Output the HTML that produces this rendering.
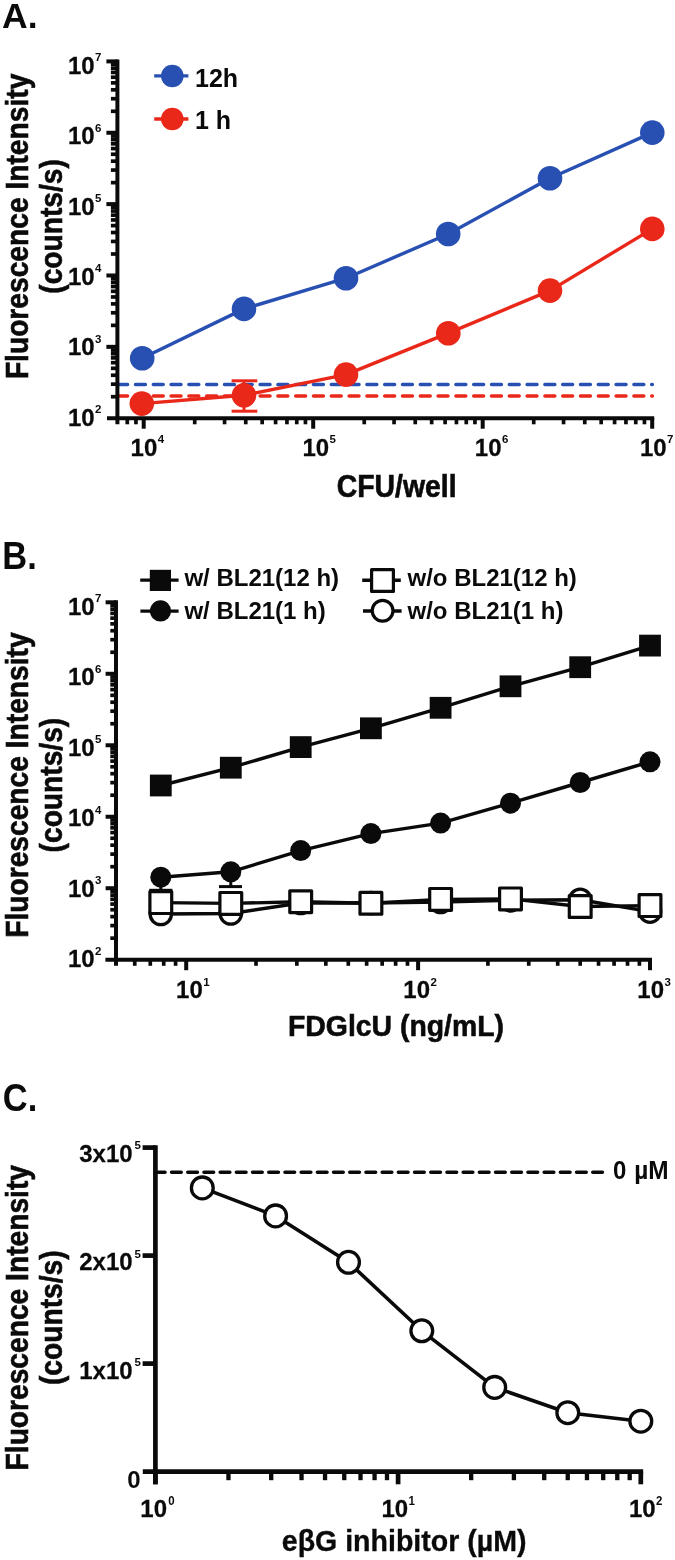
<!DOCTYPE html>
<html><head><meta charset="utf-8"><title>Figure</title>
<style>
html,body{margin:0;padding:0;background:#fff;}
svg{display:block;}
svg text{font-family:"Liberation Sans", Arial, Helvetica, sans-serif;font-weight:bold;fill:#0a0a0a;}
</style></head><body>
<svg width="675" height="1560" viewBox="0 0 675 1560">
<rect x="0" y="0" width="675" height="1560" fill="#ffffff"/>
<text transform="translate(2.00,27.60) scale(1,1.0)" font-size="35.5" text-anchor="start" >A.</text>
<line x1="117.70" y1="384.40" x2="652.40" y2="384.40" stroke="#2850B2" stroke-width="3.5" stroke-dasharray="9.9 7.9" stroke-linecap="round"/>
<line x1="117.70" y1="396.00" x2="652.40" y2="396.00" stroke="#EA281A" stroke-width="3.5" stroke-dasharray="9.9 7.9" stroke-linecap="round"/>
<line x1="117.40" y1="59.40" x2="117.40" y2="424.30" stroke="#0a0a0a" stroke-width="4.0" />
<line x1="107.00" y1="418.20" x2="654.20" y2="418.20" stroke="#0a0a0a" stroke-width="4.0" />
<line x1="110.90" y1="396.72" x2="117.40" y2="396.72" stroke="#0a0a0a" stroke-width="3.68" />
<line x1="110.90" y1="384.15" x2="117.40" y2="384.15" stroke="#0a0a0a" stroke-width="3.68" />
<line x1="110.90" y1="375.24" x2="117.40" y2="375.24" stroke="#0a0a0a" stroke-width="3.68" />
<line x1="110.90" y1="368.32" x2="117.40" y2="368.32" stroke="#0a0a0a" stroke-width="3.68" />
<line x1="110.90" y1="362.67" x2="117.40" y2="362.67" stroke="#0a0a0a" stroke-width="3.68" />
<line x1="110.90" y1="357.89" x2="117.40" y2="357.89" stroke="#0a0a0a" stroke-width="3.68" />
<line x1="110.90" y1="353.76" x2="117.40" y2="353.76" stroke="#0a0a0a" stroke-width="3.68" />
<line x1="110.90" y1="350.11" x2="117.40" y2="350.11" stroke="#0a0a0a" stroke-width="3.68" />
<text transform="translate(94.60,425.80) scale(1,1.02)" font-size="24" text-anchor="end" stroke="#0a0a0a" stroke-width="0.25">10</text>
<text transform="translate(95.10,413.20) scale(1,1.02)" font-size="11.5" text-anchor="start" >2</text>
<line x1="106.40" y1="346.84" x2="117.40" y2="346.84" stroke="#0a0a0a" stroke-width="4.0" />
<line x1="110.90" y1="325.36" x2="117.40" y2="325.36" stroke="#0a0a0a" stroke-width="3.68" />
<line x1="110.90" y1="312.79" x2="117.40" y2="312.79" stroke="#0a0a0a" stroke-width="3.68" />
<line x1="110.90" y1="303.88" x2="117.40" y2="303.88" stroke="#0a0a0a" stroke-width="3.68" />
<line x1="110.90" y1="296.96" x2="117.40" y2="296.96" stroke="#0a0a0a" stroke-width="3.68" />
<line x1="110.90" y1="291.31" x2="117.40" y2="291.31" stroke="#0a0a0a" stroke-width="3.68" />
<line x1="110.90" y1="286.53" x2="117.40" y2="286.53" stroke="#0a0a0a" stroke-width="3.68" />
<line x1="110.90" y1="282.40" x2="117.40" y2="282.40" stroke="#0a0a0a" stroke-width="3.68" />
<line x1="110.90" y1="278.75" x2="117.40" y2="278.75" stroke="#0a0a0a" stroke-width="3.68" />
<text transform="translate(94.60,355.38) scale(1,1.02)" font-size="24" text-anchor="end" stroke="#0a0a0a" stroke-width="0.25">10</text>
<text transform="translate(95.10,342.78) scale(1,1.02)" font-size="11.5" text-anchor="start" >3</text>
<line x1="106.40" y1="275.48" x2="117.40" y2="275.48" stroke="#0a0a0a" stroke-width="4.0" />
<line x1="110.90" y1="254.00" x2="117.40" y2="254.00" stroke="#0a0a0a" stroke-width="3.68" />
<line x1="110.90" y1="241.43" x2="117.40" y2="241.43" stroke="#0a0a0a" stroke-width="3.68" />
<line x1="110.90" y1="232.52" x2="117.40" y2="232.52" stroke="#0a0a0a" stroke-width="3.68" />
<line x1="110.90" y1="225.60" x2="117.40" y2="225.60" stroke="#0a0a0a" stroke-width="3.68" />
<line x1="110.90" y1="219.95" x2="117.40" y2="219.95" stroke="#0a0a0a" stroke-width="3.68" />
<line x1="110.90" y1="215.17" x2="117.40" y2="215.17" stroke="#0a0a0a" stroke-width="3.68" />
<line x1="110.90" y1="211.04" x2="117.40" y2="211.04" stroke="#0a0a0a" stroke-width="3.68" />
<line x1="110.90" y1="207.39" x2="117.40" y2="207.39" stroke="#0a0a0a" stroke-width="3.68" />
<text transform="translate(94.60,284.96) scale(1,1.02)" font-size="24" text-anchor="end" stroke="#0a0a0a" stroke-width="0.25">10</text>
<text transform="translate(95.10,272.36) scale(1,1.02)" font-size="11.5" text-anchor="start" >4</text>
<line x1="106.40" y1="204.12" x2="117.40" y2="204.12" stroke="#0a0a0a" stroke-width="4.0" />
<line x1="110.90" y1="182.64" x2="117.40" y2="182.64" stroke="#0a0a0a" stroke-width="3.68" />
<line x1="110.90" y1="170.07" x2="117.40" y2="170.07" stroke="#0a0a0a" stroke-width="3.68" />
<line x1="110.90" y1="161.16" x2="117.40" y2="161.16" stroke="#0a0a0a" stroke-width="3.68" />
<line x1="110.90" y1="154.24" x2="117.40" y2="154.24" stroke="#0a0a0a" stroke-width="3.68" />
<line x1="110.90" y1="148.59" x2="117.40" y2="148.59" stroke="#0a0a0a" stroke-width="3.68" />
<line x1="110.90" y1="143.81" x2="117.40" y2="143.81" stroke="#0a0a0a" stroke-width="3.68" />
<line x1="110.90" y1="139.68" x2="117.40" y2="139.68" stroke="#0a0a0a" stroke-width="3.68" />
<line x1="110.90" y1="136.03" x2="117.40" y2="136.03" stroke="#0a0a0a" stroke-width="3.68" />
<text transform="translate(94.60,214.54) scale(1,1.02)" font-size="24" text-anchor="end" stroke="#0a0a0a" stroke-width="0.25">10</text>
<text transform="translate(95.10,201.94) scale(1,1.02)" font-size="11.5" text-anchor="start" >5</text>
<line x1="106.40" y1="132.76" x2="117.40" y2="132.76" stroke="#0a0a0a" stroke-width="4.0" />
<line x1="110.90" y1="111.28" x2="117.40" y2="111.28" stroke="#0a0a0a" stroke-width="3.68" />
<line x1="110.90" y1="98.71" x2="117.40" y2="98.71" stroke="#0a0a0a" stroke-width="3.68" />
<line x1="110.90" y1="89.80" x2="117.40" y2="89.80" stroke="#0a0a0a" stroke-width="3.68" />
<line x1="110.90" y1="82.88" x2="117.40" y2="82.88" stroke="#0a0a0a" stroke-width="3.68" />
<line x1="110.90" y1="77.23" x2="117.40" y2="77.23" stroke="#0a0a0a" stroke-width="3.68" />
<line x1="110.90" y1="72.45" x2="117.40" y2="72.45" stroke="#0a0a0a" stroke-width="3.68" />
<line x1="110.90" y1="68.32" x2="117.40" y2="68.32" stroke="#0a0a0a" stroke-width="3.68" />
<line x1="110.90" y1="64.67" x2="117.40" y2="64.67" stroke="#0a0a0a" stroke-width="3.68" />
<text transform="translate(94.60,144.12) scale(1,1.02)" font-size="24" text-anchor="end" stroke="#0a0a0a" stroke-width="0.25">10</text>
<text transform="translate(95.10,131.52) scale(1,1.02)" font-size="11.5" text-anchor="start" >6</text>
<line x1="106.40" y1="61.40" x2="117.40" y2="61.40" stroke="#0a0a0a" stroke-width="4.0" />
<text transform="translate(94.60,73.70) scale(1,1.02)" font-size="24" text-anchor="end" stroke="#0a0a0a" stroke-width="0.25">10</text>
<text transform="translate(95.10,61.10) scale(1,1.02)" font-size="11.5" text-anchor="start" >7</text>
<line x1="143.70" y1="418.20" x2="143.70" y2="428.70" stroke="#0a0a0a" stroke-width="4.0" />
<text transform="translate(157.30,456.00) scale(1,1.02)" font-size="24" text-anchor="end" stroke="#0a0a0a" stroke-width="0.25">10</text>
<text transform="translate(157.80,443.40) scale(1,1.02)" font-size="11.5" text-anchor="start" >4</text>
<line x1="313.20" y1="418.20" x2="313.20" y2="428.70" stroke="#0a0a0a" stroke-width="4.0" />
<text transform="translate(329.10,456.00) scale(1,1.02)" font-size="24" text-anchor="end" stroke="#0a0a0a" stroke-width="0.25">10</text>
<text transform="translate(329.60,443.40) scale(1,1.02)" font-size="11.5" text-anchor="start" >5</text>
<line x1="482.70" y1="418.20" x2="482.70" y2="428.70" stroke="#0a0a0a" stroke-width="4.0" />
<text transform="translate(501.50,456.00) scale(1,1.02)" font-size="24" text-anchor="end" stroke="#0a0a0a" stroke-width="0.25">10</text>
<text transform="translate(502.00,443.40) scale(1,1.02)" font-size="11.5" text-anchor="start" >6</text>
<line x1="652.20" y1="418.20" x2="652.20" y2="428.70" stroke="#0a0a0a" stroke-width="4.0" />
<text transform="translate(666.60,456.00) scale(1,1.02)" font-size="24" text-anchor="end" stroke="#0a0a0a" stroke-width="0.25">10</text>
<text transform="translate(667.10,443.40) scale(1,1.02)" font-size="11.5" text-anchor="start" >7</text>
<line x1="127.27" y1="418.20" x2="127.27" y2="424.30" stroke="#0a0a0a" stroke-width="3.68" />
<line x1="135.94" y1="418.20" x2="135.94" y2="424.30" stroke="#0a0a0a" stroke-width="3.68" />
<line x1="194.72" y1="418.20" x2="194.72" y2="424.30" stroke="#0a0a0a" stroke-width="3.68" />
<line x1="224.57" y1="418.20" x2="224.57" y2="424.30" stroke="#0a0a0a" stroke-width="3.68" />
<line x1="245.75" y1="418.20" x2="245.75" y2="424.30" stroke="#0a0a0a" stroke-width="3.68" />
<line x1="262.18" y1="418.20" x2="262.18" y2="424.30" stroke="#0a0a0a" stroke-width="3.68" />
<line x1="275.60" y1="418.20" x2="275.60" y2="424.30" stroke="#0a0a0a" stroke-width="3.68" />
<line x1="286.94" y1="418.20" x2="286.94" y2="424.30" stroke="#0a0a0a" stroke-width="3.68" />
<line x1="296.77" y1="418.20" x2="296.77" y2="424.30" stroke="#0a0a0a" stroke-width="3.68" />
<line x1="305.44" y1="418.20" x2="305.44" y2="424.30" stroke="#0a0a0a" stroke-width="3.68" />
<line x1="364.22" y1="418.20" x2="364.22" y2="424.30" stroke="#0a0a0a" stroke-width="3.68" />
<line x1="394.07" y1="418.20" x2="394.07" y2="424.30" stroke="#0a0a0a" stroke-width="3.68" />
<line x1="415.25" y1="418.20" x2="415.25" y2="424.30" stroke="#0a0a0a" stroke-width="3.68" />
<line x1="431.68" y1="418.20" x2="431.68" y2="424.30" stroke="#0a0a0a" stroke-width="3.68" />
<line x1="445.10" y1="418.20" x2="445.10" y2="424.30" stroke="#0a0a0a" stroke-width="3.68" />
<line x1="456.44" y1="418.20" x2="456.44" y2="424.30" stroke="#0a0a0a" stroke-width="3.68" />
<line x1="466.27" y1="418.20" x2="466.27" y2="424.30" stroke="#0a0a0a" stroke-width="3.68" />
<line x1="474.94" y1="418.20" x2="474.94" y2="424.30" stroke="#0a0a0a" stroke-width="3.68" />
<line x1="533.72" y1="418.20" x2="533.72" y2="424.30" stroke="#0a0a0a" stroke-width="3.68" />
<line x1="563.57" y1="418.20" x2="563.57" y2="424.30" stroke="#0a0a0a" stroke-width="3.68" />
<line x1="584.75" y1="418.20" x2="584.75" y2="424.30" stroke="#0a0a0a" stroke-width="3.68" />
<line x1="601.18" y1="418.20" x2="601.18" y2="424.30" stroke="#0a0a0a" stroke-width="3.68" />
<line x1="614.60" y1="418.20" x2="614.60" y2="424.30" stroke="#0a0a0a" stroke-width="3.68" />
<line x1="625.94" y1="418.20" x2="625.94" y2="424.30" stroke="#0a0a0a" stroke-width="3.68" />
<line x1="635.77" y1="418.20" x2="635.77" y2="424.30" stroke="#0a0a0a" stroke-width="3.68" />
<line x1="644.44" y1="418.20" x2="644.44" y2="424.30" stroke="#0a0a0a" stroke-width="3.68" />
<text transform="translate(28.10,226.40) rotate(-90) scale(1,1.085)" font-size="28.2" text-anchor="middle" stroke="#0a0a0a" stroke-width="0.55">Fluorescence Intensity</text>
<text transform="translate(61.50,226.40) rotate(-90) scale(1,1.085)" font-size="28.2" text-anchor="middle" stroke="#0a0a0a" stroke-width="0.55">(counts/s)</text>
<text transform="translate(396.70,496.60) scale(1,1.075)" font-size="28.4" text-anchor="middle" stroke="#0a0a0a" stroke-width="0.55">CFU/well</text>
<polyline points="142.20,358.30 244.00,308.90 346.00,278.20 448.20,234.00 550.00,178.20 652.30,132.60" fill="none" stroke="#2850B2" stroke-width="3.4" stroke-linejoin="round"/>
<circle cx="142.20" cy="358.30" r="12.3" fill="#2850B2"/>
<circle cx="244.00" cy="308.90" r="12.3" fill="#2850B2"/>
<circle cx="346.00" cy="278.20" r="12.3" fill="#2850B2"/>
<circle cx="448.20" cy="234.00" r="12.3" fill="#2850B2"/>
<circle cx="550.00" cy="178.20" r="12.3" fill="#2850B2"/>
<circle cx="652.30" cy="132.60" r="12.3" fill="#2850B2"/>
<line x1="244.00" y1="380.80" x2="244.00" y2="411.20" stroke="#EA281A" stroke-width="3.0" />
<line x1="231.60" y1="380.80" x2="257.30" y2="380.80" stroke="#EA281A" stroke-width="3.0" />
<line x1="231.60" y1="411.20" x2="257.30" y2="411.20" stroke="#EA281A" stroke-width="3.0" />
<polyline points="141.80,403.60 244.00,395.30 346.00,374.60 448.30,333.20 550.00,290.60 652.30,228.90" fill="none" stroke="#EA281A" stroke-width="3.4" stroke-linejoin="round"/>
<circle cx="141.80" cy="403.60" r="12.3" fill="#EA281A"/>
<circle cx="244.00" cy="395.30" r="12.3" fill="#EA281A"/>
<circle cx="346.00" cy="374.60" r="12.3" fill="#EA281A"/>
<circle cx="448.30" cy="333.20" r="12.3" fill="#EA281A"/>
<circle cx="550.00" cy="290.60" r="12.3" fill="#EA281A"/>
<circle cx="652.30" cy="228.90" r="12.3" fill="#EA281A"/>
<line x1="154.20" y1="75.90" x2="188.40" y2="75.90" stroke="#2850B2" stroke-width="3.4" />
<circle cx="172.30" cy="76.00" r="11.3" fill="#2850B2"/>
<line x1="154.20" y1="119.00" x2="188.40" y2="119.00" stroke="#EA281A" stroke-width="3.4" />
<circle cx="172.30" cy="119.00" r="11.3" fill="#EA281A"/>
<text transform="translate(195.00,86.80) scale(1,1.0)" font-size="25" text-anchor="start" >12h</text>
<text transform="translate(195.00,128.60) scale(1,1.0)" font-size="25" text-anchor="start" >1 h</text>
<text transform="translate(2.30,569.20) scale(1,1.1)" font-size="34.5" text-anchor="start" >B.</text>
<line x1="116.00" y1="600.30" x2="116.00" y2="965.80" stroke="#0a0a0a" stroke-width="4.0" />
<line x1="105.40" y1="959.70" x2="652.00" y2="959.70" stroke="#0a0a0a" stroke-width="4.0" />
<line x1="110.30" y1="938.18" x2="116.00" y2="938.18" stroke="#0a0a0a" stroke-width="3.68" />
<line x1="110.30" y1="925.60" x2="116.00" y2="925.60" stroke="#0a0a0a" stroke-width="3.68" />
<line x1="110.30" y1="916.66" x2="116.00" y2="916.66" stroke="#0a0a0a" stroke-width="3.68" />
<line x1="110.30" y1="909.74" x2="116.00" y2="909.74" stroke="#0a0a0a" stroke-width="3.68" />
<line x1="110.30" y1="904.08" x2="116.00" y2="904.08" stroke="#0a0a0a" stroke-width="3.68" />
<line x1="110.30" y1="899.29" x2="116.00" y2="899.29" stroke="#0a0a0a" stroke-width="3.68" />
<line x1="110.30" y1="895.15" x2="116.00" y2="895.15" stroke="#0a0a0a" stroke-width="3.68" />
<line x1="110.30" y1="891.49" x2="116.00" y2="891.49" stroke="#0a0a0a" stroke-width="3.68" />
<text transform="translate(94.60,967.20) scale(1,1.02)" font-size="24" text-anchor="end" stroke="#0a0a0a" stroke-width="0.25">10</text>
<text transform="translate(95.10,954.60) scale(1,1.02)" font-size="11.5" text-anchor="start" >2</text>
<line x1="105.60" y1="888.22" x2="116.00" y2="888.22" stroke="#0a0a0a" stroke-width="4.0" />
<line x1="110.30" y1="866.70" x2="116.00" y2="866.70" stroke="#0a0a0a" stroke-width="3.68" />
<line x1="110.30" y1="854.12" x2="116.00" y2="854.12" stroke="#0a0a0a" stroke-width="3.68" />
<line x1="110.30" y1="845.18" x2="116.00" y2="845.18" stroke="#0a0a0a" stroke-width="3.68" />
<line x1="110.30" y1="838.26" x2="116.00" y2="838.26" stroke="#0a0a0a" stroke-width="3.68" />
<line x1="110.30" y1="832.60" x2="116.00" y2="832.60" stroke="#0a0a0a" stroke-width="3.68" />
<line x1="110.30" y1="827.81" x2="116.00" y2="827.81" stroke="#0a0a0a" stroke-width="3.68" />
<line x1="110.30" y1="823.67" x2="116.00" y2="823.67" stroke="#0a0a0a" stroke-width="3.68" />
<line x1="110.30" y1="820.01" x2="116.00" y2="820.01" stroke="#0a0a0a" stroke-width="3.68" />
<text transform="translate(94.60,896.68) scale(1,1.02)" font-size="24" text-anchor="end" stroke="#0a0a0a" stroke-width="0.25">10</text>
<text transform="translate(95.10,884.08) scale(1,1.02)" font-size="11.5" text-anchor="start" >3</text>
<line x1="105.60" y1="816.74" x2="116.00" y2="816.74" stroke="#0a0a0a" stroke-width="4.0" />
<line x1="110.30" y1="795.22" x2="116.00" y2="795.22" stroke="#0a0a0a" stroke-width="3.68" />
<line x1="110.30" y1="782.64" x2="116.00" y2="782.64" stroke="#0a0a0a" stroke-width="3.68" />
<line x1="110.30" y1="773.70" x2="116.00" y2="773.70" stroke="#0a0a0a" stroke-width="3.68" />
<line x1="110.30" y1="766.78" x2="116.00" y2="766.78" stroke="#0a0a0a" stroke-width="3.68" />
<line x1="110.30" y1="761.12" x2="116.00" y2="761.12" stroke="#0a0a0a" stroke-width="3.68" />
<line x1="110.30" y1="756.33" x2="116.00" y2="756.33" stroke="#0a0a0a" stroke-width="3.68" />
<line x1="110.30" y1="752.19" x2="116.00" y2="752.19" stroke="#0a0a0a" stroke-width="3.68" />
<line x1="110.30" y1="748.53" x2="116.00" y2="748.53" stroke="#0a0a0a" stroke-width="3.68" />
<text transform="translate(94.60,826.16) scale(1,1.02)" font-size="24" text-anchor="end" stroke="#0a0a0a" stroke-width="0.25">10</text>
<text transform="translate(95.10,813.56) scale(1,1.02)" font-size="11.5" text-anchor="start" >4</text>
<line x1="105.60" y1="745.26" x2="116.00" y2="745.26" stroke="#0a0a0a" stroke-width="4.0" />
<line x1="110.30" y1="723.74" x2="116.00" y2="723.74" stroke="#0a0a0a" stroke-width="3.68" />
<line x1="110.30" y1="711.16" x2="116.00" y2="711.16" stroke="#0a0a0a" stroke-width="3.68" />
<line x1="110.30" y1="702.22" x2="116.00" y2="702.22" stroke="#0a0a0a" stroke-width="3.68" />
<line x1="110.30" y1="695.30" x2="116.00" y2="695.30" stroke="#0a0a0a" stroke-width="3.68" />
<line x1="110.30" y1="689.64" x2="116.00" y2="689.64" stroke="#0a0a0a" stroke-width="3.68" />
<line x1="110.30" y1="684.85" x2="116.00" y2="684.85" stroke="#0a0a0a" stroke-width="3.68" />
<line x1="110.30" y1="680.71" x2="116.00" y2="680.71" stroke="#0a0a0a" stroke-width="3.68" />
<line x1="110.30" y1="677.05" x2="116.00" y2="677.05" stroke="#0a0a0a" stroke-width="3.68" />
<text transform="translate(94.60,755.64) scale(1,1.02)" font-size="24" text-anchor="end" stroke="#0a0a0a" stroke-width="0.25">10</text>
<text transform="translate(95.10,743.04) scale(1,1.02)" font-size="11.5" text-anchor="start" >5</text>
<line x1="105.60" y1="673.78" x2="116.00" y2="673.78" stroke="#0a0a0a" stroke-width="4.0" />
<line x1="110.30" y1="652.26" x2="116.00" y2="652.26" stroke="#0a0a0a" stroke-width="3.68" />
<line x1="110.30" y1="639.68" x2="116.00" y2="639.68" stroke="#0a0a0a" stroke-width="3.68" />
<line x1="110.30" y1="630.74" x2="116.00" y2="630.74" stroke="#0a0a0a" stroke-width="3.68" />
<line x1="110.30" y1="623.82" x2="116.00" y2="623.82" stroke="#0a0a0a" stroke-width="3.68" />
<line x1="110.30" y1="618.16" x2="116.00" y2="618.16" stroke="#0a0a0a" stroke-width="3.68" />
<line x1="110.30" y1="613.37" x2="116.00" y2="613.37" stroke="#0a0a0a" stroke-width="3.68" />
<line x1="110.30" y1="609.23" x2="116.00" y2="609.23" stroke="#0a0a0a" stroke-width="3.68" />
<line x1="110.30" y1="605.57" x2="116.00" y2="605.57" stroke="#0a0a0a" stroke-width="3.68" />
<text transform="translate(94.60,685.12) scale(1,1.02)" font-size="24" text-anchor="end" stroke="#0a0a0a" stroke-width="0.25">10</text>
<text transform="translate(95.10,672.52) scale(1,1.02)" font-size="11.5" text-anchor="start" >6</text>
<line x1="105.60" y1="602.30" x2="116.00" y2="602.30" stroke="#0a0a0a" stroke-width="4.0" />
<text transform="translate(94.60,614.60) scale(1,1.02)" font-size="24" text-anchor="end" stroke="#0a0a0a" stroke-width="0.25">10</text>
<text transform="translate(95.10,602.00) scale(1,1.02)" font-size="11.5" text-anchor="start" >7</text>
<line x1="186.20" y1="959.70" x2="186.20" y2="970.20" stroke="#0a0a0a" stroke-width="4.0" />
<text transform="translate(202.80,998.30) scale(1,1.02)" font-size="24" text-anchor="end" stroke="#0a0a0a" stroke-width="0.25">10</text>
<text transform="translate(203.30,985.70) scale(1,1.02)" font-size="11.5" text-anchor="start" >1</text>
<line x1="418.10" y1="959.70" x2="418.10" y2="970.20" stroke="#0a0a0a" stroke-width="4.0" />
<text transform="translate(430.00,998.30) scale(1,1.02)" font-size="24" text-anchor="end" stroke="#0a0a0a" stroke-width="0.25">10</text>
<text transform="translate(430.50,985.70) scale(1,1.02)" font-size="11.5" text-anchor="start" >2</text>
<line x1="650.00" y1="959.70" x2="650.00" y2="970.20" stroke="#0a0a0a" stroke-width="4.0" />
<text transform="translate(664.00,998.30) scale(1,1.02)" font-size="24" text-anchor="end" stroke="#0a0a0a" stroke-width="0.25">10</text>
<text transform="translate(664.50,985.70) scale(1,1.02)" font-size="11.5" text-anchor="start" >3</text>
<line x1="134.75" y1="959.70" x2="134.75" y2="965.80" stroke="#0a0a0a" stroke-width="3.68" />
<line x1="150.28" y1="959.70" x2="150.28" y2="965.80" stroke="#0a0a0a" stroke-width="3.68" />
<line x1="163.73" y1="959.70" x2="163.73" y2="965.80" stroke="#0a0a0a" stroke-width="3.68" />
<line x1="175.59" y1="959.70" x2="175.59" y2="965.80" stroke="#0a0a0a" stroke-width="3.68" />
<line x1="256.01" y1="959.70" x2="256.01" y2="965.80" stroke="#0a0a0a" stroke-width="3.68" />
<line x1="296.84" y1="959.70" x2="296.84" y2="965.80" stroke="#0a0a0a" stroke-width="3.68" />
<line x1="325.82" y1="959.70" x2="325.82" y2="965.80" stroke="#0a0a0a" stroke-width="3.68" />
<line x1="348.29" y1="959.70" x2="348.29" y2="965.80" stroke="#0a0a0a" stroke-width="3.68" />
<line x1="366.65" y1="959.70" x2="366.65" y2="965.80" stroke="#0a0a0a" stroke-width="3.68" />
<line x1="382.18" y1="959.70" x2="382.18" y2="965.80" stroke="#0a0a0a" stroke-width="3.68" />
<line x1="395.63" y1="959.70" x2="395.63" y2="965.80" stroke="#0a0a0a" stroke-width="3.68" />
<line x1="407.49" y1="959.70" x2="407.49" y2="965.80" stroke="#0a0a0a" stroke-width="3.68" />
<line x1="487.91" y1="959.70" x2="487.91" y2="965.80" stroke="#0a0a0a" stroke-width="3.68" />
<line x1="528.74" y1="959.70" x2="528.74" y2="965.80" stroke="#0a0a0a" stroke-width="3.68" />
<line x1="557.72" y1="959.70" x2="557.72" y2="965.80" stroke="#0a0a0a" stroke-width="3.68" />
<line x1="580.19" y1="959.70" x2="580.19" y2="965.80" stroke="#0a0a0a" stroke-width="3.68" />
<line x1="598.55" y1="959.70" x2="598.55" y2="965.80" stroke="#0a0a0a" stroke-width="3.68" />
<line x1="614.08" y1="959.70" x2="614.08" y2="965.80" stroke="#0a0a0a" stroke-width="3.68" />
<line x1="627.53" y1="959.70" x2="627.53" y2="965.80" stroke="#0a0a0a" stroke-width="3.68" />
<line x1="639.39" y1="959.70" x2="639.39" y2="965.80" stroke="#0a0a0a" stroke-width="3.68" />
<text transform="translate(28.10,785.10) rotate(-90) scale(1,1.085)" font-size="28.2" text-anchor="middle" stroke="#0a0a0a" stroke-width="0.55">Fluorescence Intensity</text>
<text transform="translate(61.70,785.10) rotate(-90) scale(1,1.085)" font-size="28.2" text-anchor="middle" stroke="#0a0a0a" stroke-width="0.55">(counts/s)</text>
<text transform="translate(396.00,1035.80) scale(1,1.05)" font-size="28.4" text-anchor="middle" stroke="#0a0a0a" stroke-width="0.55">FDGlcU (ng/mL)</text>
<polyline points="160.80,914.00 230.80,913.50 300.70,903.00 370.90,903.00 440.60,902.00 510.50,900.30 580.20,899.80 650.00,911.60" fill="none" stroke="#0a0a0a" stroke-width="3.4" stroke-linejoin="round"/>
<circle cx="160.80" cy="914.00" r="10.7" fill="#fff" stroke="#0a0a0a" stroke-width="3.3"/>
<circle cx="230.80" cy="913.50" r="10.7" fill="#fff" stroke="#0a0a0a" stroke-width="3.3"/>
<circle cx="300.70" cy="903.00" r="10.7" fill="#fff" stroke="#0a0a0a" stroke-width="3.3"/>
<circle cx="370.90" cy="903.00" r="10.7" fill="#fff" stroke="#0a0a0a" stroke-width="3.3"/>
<circle cx="440.60" cy="902.00" r="10.7" fill="#fff" stroke="#0a0a0a" stroke-width="3.3"/>
<circle cx="510.50" cy="900.30" r="10.7" fill="#fff" stroke="#0a0a0a" stroke-width="3.3"/>
<circle cx="580.20" cy="899.80" r="10.7" fill="#fff" stroke="#0a0a0a" stroke-width="3.3"/>
<circle cx="650.00" cy="911.60" r="10.7" fill="#fff" stroke="#0a0a0a" stroke-width="3.3"/>
<line x1="160.80" y1="877.00" x2="160.80" y2="890.50" stroke="#0a0a0a" stroke-width="3.0" />
<line x1="149.20" y1="890.30" x2="172.40" y2="890.30" stroke="#0a0a0a" stroke-width="3.0" />
<line x1="230.80" y1="872.00" x2="230.80" y2="886.60" stroke="#0a0a0a" stroke-width="3.0" />
<line x1="219.00" y1="886.60" x2="242.00" y2="886.60" stroke="#0a0a0a" stroke-width="3.0" />
<polyline points="160.80,902.60 230.80,903.40 300.70,901.70 370.90,903.30 440.60,899.40 510.50,898.90 580.20,906.50 650.00,905.60" fill="none" stroke="#0a0a0a" stroke-width="3.4" stroke-linejoin="round"/>
<rect x="149.90" y="891.70" width="21.80" height="21.80" fill="#fff" stroke="#0a0a0a" stroke-width="3.2" stroke-linejoin="round"/>
<rect x="219.90" y="892.50" width="21.80" height="21.80" fill="#fff" stroke="#0a0a0a" stroke-width="3.2" stroke-linejoin="round"/>
<rect x="289.80" y="890.80" width="21.80" height="21.80" fill="#fff" stroke="#0a0a0a" stroke-width="3.2" stroke-linejoin="round"/>
<rect x="360.00" y="892.40" width="21.80" height="21.80" fill="#fff" stroke="#0a0a0a" stroke-width="3.2" stroke-linejoin="round"/>
<rect x="429.70" y="888.50" width="21.80" height="21.80" fill="#fff" stroke="#0a0a0a" stroke-width="3.2" stroke-linejoin="round"/>
<rect x="499.60" y="888.00" width="21.80" height="21.80" fill="#fff" stroke="#0a0a0a" stroke-width="3.2" stroke-linejoin="round"/>
<rect x="569.30" y="895.60" width="21.80" height="21.80" fill="#fff" stroke="#0a0a0a" stroke-width="3.2" stroke-linejoin="round"/>
<rect x="639.10" y="894.70" width="21.80" height="21.80" fill="#fff" stroke="#0a0a0a" stroke-width="3.2" stroke-linejoin="round"/>
<polyline points="160.80,877.20 230.80,871.80 300.70,850.60 370.90,833.60 440.60,823.10 510.50,803.20 580.20,782.50 650.00,761.80" fill="none" stroke="#0a0a0a" stroke-width="3.4" stroke-linejoin="round"/>
<circle cx="160.80" cy="877.20" r="10.5" fill="#0a0a0a"/>
<circle cx="230.80" cy="871.80" r="10.5" fill="#0a0a0a"/>
<circle cx="300.70" cy="850.60" r="10.5" fill="#0a0a0a"/>
<circle cx="370.90" cy="833.60" r="10.5" fill="#0a0a0a"/>
<circle cx="440.60" cy="823.10" r="10.5" fill="#0a0a0a"/>
<circle cx="510.50" cy="803.20" r="10.5" fill="#0a0a0a"/>
<circle cx="580.20" cy="782.50" r="10.5" fill="#0a0a0a"/>
<circle cx="650.00" cy="761.80" r="10.5" fill="#0a0a0a"/>
<polyline points="160.80,785.50 230.80,767.70 300.70,747.10 370.90,728.30 440.60,707.80 510.50,686.30 580.20,667.20 650.00,645.60" fill="none" stroke="#0a0a0a" stroke-width="3.4" stroke-linejoin="round"/>
<rect x="149.90" y="774.60" width="21.80" height="21.80" fill="#0a0a0a" stroke-linejoin="round"/>
<rect x="219.90" y="756.80" width="21.80" height="21.80" fill="#0a0a0a" stroke-linejoin="round"/>
<rect x="289.80" y="736.20" width="21.80" height="21.80" fill="#0a0a0a" stroke-linejoin="round"/>
<rect x="360.00" y="717.40" width="21.80" height="21.80" fill="#0a0a0a" stroke-linejoin="round"/>
<rect x="429.70" y="696.90" width="21.80" height="21.80" fill="#0a0a0a" stroke-linejoin="round"/>
<rect x="499.60" y="675.40" width="21.80" height="21.80" fill="#0a0a0a" stroke-linejoin="round"/>
<rect x="569.30" y="656.30" width="21.80" height="21.80" fill="#0a0a0a" stroke-linejoin="round"/>
<rect x="639.10" y="634.70" width="21.80" height="21.80" fill="#0a0a0a" stroke-linejoin="round"/>
<line x1="140.20" y1="580.10" x2="178.60" y2="580.10" stroke="#0a0a0a" stroke-width="3.4" />
<rect x="149.80" y="569.80" width="21.20" height="21.20" fill="#0a0a0a" stroke-linejoin="round"/>
<line x1="140.40" y1="611.10" x2="178.60" y2="611.10" stroke="#0a0a0a" stroke-width="3.4" />
<circle cx="160.50" cy="610.90" r="10.6" fill="#0a0a0a"/>
<line x1="362.20" y1="580.30" x2="400.80" y2="580.30" stroke="#0a0a0a" stroke-width="3.4" />
<rect x="371.60" y="569.60" width="21.80" height="21.80" fill="#fff" stroke="#0a0a0a" stroke-width="3.2" stroke-linejoin="round"/>
<line x1="363.00" y1="611.00" x2="401.60" y2="611.00" stroke="#0a0a0a" stroke-width="3.4" />
<circle cx="382.60" cy="610.70" r="10.4" fill="#fff" stroke="#0a0a0a" stroke-width="3.2"/>
<text transform="translate(184.40,585.90) scale(1,1.0)" font-size="24" text-anchor="start" >w/ BL21(12 h)</text>
<text transform="translate(184.40,619.00) scale(1,1.0)" font-size="24" text-anchor="start" >w/ BL21(1 h)</text>
<text transform="translate(407.50,585.90) scale(1,1.0)" font-size="24" text-anchor="start" >w/o BL21(12 h)</text>
<text transform="translate(407.50,619.00) scale(1,1.0)" font-size="24" text-anchor="start" >w/o BL21(1 h)</text>
<text transform="translate(2.80,1111.10) scale(1,1.1)" font-size="34.5" text-anchor="start" >C.</text>
<line x1="155.40" y1="1172.20" x2="602.80" y2="1172.20" stroke="#0a0a0a" stroke-width="3.6" stroke-dasharray="9.6 6.6" stroke-linecap="round"/>
<line x1="155.40" y1="1145.25" x2="155.40" y2="1484.30" stroke="#0a0a0a" stroke-width="4.7" />
<line x1="142.80" y1="1471.60" x2="643.15" y2="1471.60" stroke="#0a0a0a" stroke-width="4.7" />
<line x1="142.60" y1="1363.60" x2="155.40" y2="1363.60" stroke="#0a0a0a" stroke-width="4.7" />
<text transform="translate(132.60,1379.04) scale(1,1.02)" font-size="24" text-anchor="end" stroke="#0a0a0a" stroke-width="0.25">1x10</text>
<text transform="translate(134.50,1366.44) scale(1,1.02)" font-size="11.5" text-anchor="start" >5</text>
<line x1="142.60" y1="1255.60" x2="155.40" y2="1255.60" stroke="#0a0a0a" stroke-width="4.7" />
<text transform="translate(132.60,1270.47) scale(1,1.02)" font-size="24" text-anchor="end" stroke="#0a0a0a" stroke-width="0.25">2x10</text>
<text transform="translate(134.50,1257.87) scale(1,1.02)" font-size="11.5" text-anchor="start" >5</text>
<line x1="142.60" y1="1147.60" x2="155.40" y2="1147.60" stroke="#0a0a0a" stroke-width="4.7" />
<text transform="translate(132.60,1161.90) scale(1,1.02)" font-size="24" text-anchor="end" stroke="#0a0a0a" stroke-width="0.25">3x10</text>
<text transform="translate(134.50,1149.30) scale(1,1.02)" font-size="11.5" text-anchor="start" >5</text>
<text transform="translate(140.60,1487.60) scale(1,1.0)" font-size="24" text-anchor="end" >0</text>
<line x1="155.40" y1="1471.60" x2="155.40" y2="1484.30" stroke="#0a0a0a" stroke-width="4.7" />
<text transform="translate(167.00,1516.50) scale(1,1.02)" font-size="24" text-anchor="end" stroke="#0a0a0a" stroke-width="0.25">10</text>
<text transform="translate(168.20,1504.70) scale(1,1.18)" font-size="11.5" text-anchor="start" >0</text>
<line x1="398.10" y1="1471.60" x2="398.10" y2="1484.30" stroke="#0a0a0a" stroke-width="4.7" />
<text transform="translate(408.10,1516.50) scale(1,1.02)" font-size="24" text-anchor="end" stroke="#0a0a0a" stroke-width="0.25">10</text>
<text transform="translate(408.50,1504.70) scale(1,1.18)" font-size="11.5" text-anchor="start" >1</text>
<line x1="640.80" y1="1471.60" x2="640.80" y2="1484.30" stroke="#0a0a0a" stroke-width="4.7" />
<text transform="translate(655.70,1516.50) scale(1,1.02)" font-size="24" text-anchor="end" stroke="#0a0a0a" stroke-width="0.25">10</text>
<text transform="translate(656.10,1504.70) scale(1,1.18)" font-size="11.5" text-anchor="start" >2</text>
<line x1="228.46" y1="1471.60" x2="228.46" y2="1480.20" stroke="#0a0a0a" stroke-width="4.324000000000001" />
<line x1="271.20" y1="1471.60" x2="271.20" y2="1480.20" stroke="#0a0a0a" stroke-width="4.324000000000001" />
<line x1="301.52" y1="1471.60" x2="301.52" y2="1480.20" stroke="#0a0a0a" stroke-width="4.324000000000001" />
<line x1="325.04" y1="1471.60" x2="325.04" y2="1480.20" stroke="#0a0a0a" stroke-width="4.324000000000001" />
<line x1="344.26" y1="1471.60" x2="344.26" y2="1480.20" stroke="#0a0a0a" stroke-width="4.324000000000001" />
<line x1="360.51" y1="1471.60" x2="360.51" y2="1480.20" stroke="#0a0a0a" stroke-width="4.324000000000001" />
<line x1="374.58" y1="1471.60" x2="374.58" y2="1480.20" stroke="#0a0a0a" stroke-width="4.324000000000001" />
<line x1="386.99" y1="1471.60" x2="386.99" y2="1480.20" stroke="#0a0a0a" stroke-width="4.324000000000001" />
<line x1="471.16" y1="1471.60" x2="471.16" y2="1480.20" stroke="#0a0a0a" stroke-width="4.324000000000001" />
<line x1="513.90" y1="1471.60" x2="513.90" y2="1480.20" stroke="#0a0a0a" stroke-width="4.324000000000001" />
<line x1="544.22" y1="1471.60" x2="544.22" y2="1480.20" stroke="#0a0a0a" stroke-width="4.324000000000001" />
<line x1="567.74" y1="1471.60" x2="567.74" y2="1480.20" stroke="#0a0a0a" stroke-width="4.324000000000001" />
<line x1="586.96" y1="1471.60" x2="586.96" y2="1480.20" stroke="#0a0a0a" stroke-width="4.324000000000001" />
<line x1="603.21" y1="1471.60" x2="603.21" y2="1480.20" stroke="#0a0a0a" stroke-width="4.324000000000001" />
<line x1="617.28" y1="1471.60" x2="617.28" y2="1480.20" stroke="#0a0a0a" stroke-width="4.324000000000001" />
<line x1="629.69" y1="1471.60" x2="629.69" y2="1480.20" stroke="#0a0a0a" stroke-width="4.324000000000001" />
<text transform="translate(28.10,1317.70) rotate(-90) scale(1,1.085)" font-size="28.2" text-anchor="middle" stroke="#0a0a0a" stroke-width="0.55">Fluorescence Intensity</text>
<text transform="translate(62.00,1317.70) rotate(-90) scale(1,1.085)" font-size="28.2" text-anchor="middle" stroke="#0a0a0a" stroke-width="0.55">(counts/s)</text>
<text transform="translate(404.10,1550.70) scale(1,1.04)" font-size="28.55" text-anchor="middle" stroke="#0a0a0a" stroke-width="0.3">eβG inhibitor (µM)</text>
<text transform="translate(613.00,1178.50) scale(1,1.05)" font-size="24" text-anchor="start" >0</text>
<text transform="translate(634.20,1178.50) scale(1,1.05)" font-size="24" text-anchor="start" textLength="34.4" lengthAdjust="spacingAndGlyphs">µM</text>
<polyline points="202.30,1187.90 275.60,1215.90 348.50,1262.30 421.80,1330.80 494.70,1387.40 567.80,1412.70 640.80,1421.20" fill="none" stroke="#0a0a0a" stroke-width="3.6" stroke-linejoin="round"/>
<circle cx="202.30" cy="1187.90" r="10.9" fill="#fff" stroke="#0a0a0a" stroke-width="3.3"/>
<circle cx="275.60" cy="1215.90" r="10.9" fill="#fff" stroke="#0a0a0a" stroke-width="3.3"/>
<circle cx="348.50" cy="1262.30" r="10.9" fill="#fff" stroke="#0a0a0a" stroke-width="3.3"/>
<circle cx="421.80" cy="1330.80" r="10.9" fill="#fff" stroke="#0a0a0a" stroke-width="3.3"/>
<circle cx="494.70" cy="1387.40" r="10.9" fill="#fff" stroke="#0a0a0a" stroke-width="3.3"/>
<circle cx="567.80" cy="1412.70" r="10.9" fill="#fff" stroke="#0a0a0a" stroke-width="3.3"/>
<circle cx="640.80" cy="1421.20" r="10.9" fill="#fff" stroke="#0a0a0a" stroke-width="3.3"/>
</svg>
</body></html>
